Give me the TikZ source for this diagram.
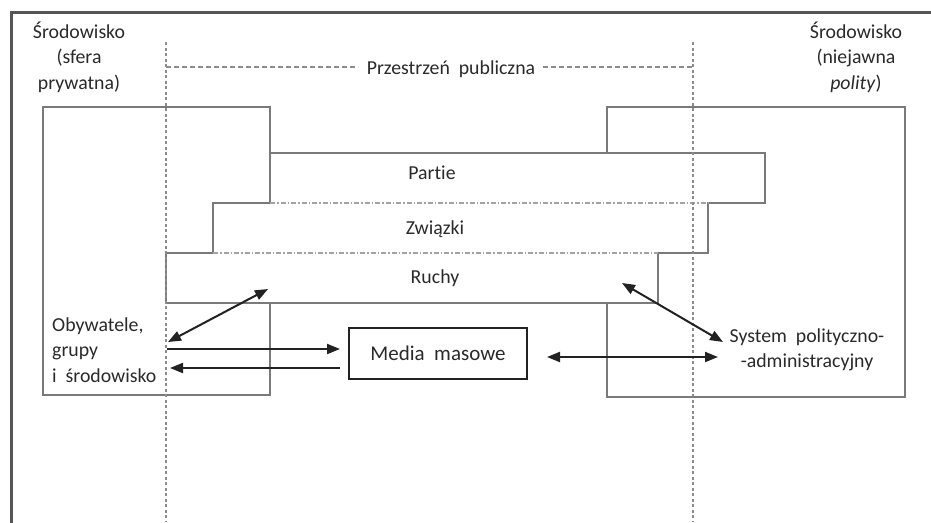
\documentclass[tikz,border=0pt]{standalone}
\usepackage{fontspec}
\setmainfont{Carlito}[Ligatures={NoCommon}]
\usetikzlibrary{arrows.meta}
\definecolor{boxgray}{HTML}{7A7A7A}
\definecolor{dotgray}{HTML}{8C8C8C}
\definecolor{ink}{HTML}{222222}
\definecolor{txt}{HTML}{2A2A2A}
\begin{document}
\begin{tikzpicture}[x=1pt,y=-1pt,
  boxline/.style={draw=boxgray,line width=1.5pt},
  vdots/.style={draw=dotgray,line width=1.6pt,dash pattern=on 3pt off 2.5pt},
  hdash/.style={draw=dotgray,line width=1.4pt,dash pattern=on 5pt off 3pt},
  dashdotline/.style={draw=dotgray!80,line width=1.3pt,dash pattern=on 5pt off 2pt on 1.5pt off 2pt},
  arr/.style={draw=ink,line width=2pt,-{Triangle[length=13pt,width=10pt]}},
  darr/.style={draw=ink,line width=2pt,{Triangle[length=13pt,width=10pt]}-{Triangle[length=13pt,width=10pt]}},
  lbl/.style={text=txt,font=\fontsize{19.8}{25.5}\selectfont,inner sep=0pt},
  mediabox/.style={draw=ink,line width=2.5pt,text=txt,font=\fontsize{21}{25}\selectfont,minimum width=178pt,minimum height=51pt,inner sep=0pt}
]
\useasboundingbox (0,0) rectangle (931,522);
\fill[white] (0,0) rectangle (931,522);
% outer frame
\draw[draw=boxgray!70!black,line width=3pt] (11,524) -- (11,12) -- (933,12);
% side boxes
\draw[boxline] (43,107) rectangle (270,395);
\draw[boxline] (607,107) rectangle (905,397);
% stairs
\fill[white] (270,153) -- (765,153) -- (765,203) -- (708,203) -- (708,253) -- (658,253) -- (658,303) -- (166,303) -- (166,253) -- (213,253) -- (213,203) -- (270,203) -- cycle;
\draw[boxline] (270,153) -- (765,153) -- (765,203) -- (708,203) -- (708,253) -- (658,253) -- (658,303) -- (166,303) -- (166,253) -- (213,253) -- (213,203) -- (270,203) -- cycle;
\draw[dashdotline] (270,203) -- (708,203);
\draw[dashdotline] (213,253) -- (658,253);
% public space
\draw[vdots] (166,42) -- (166,522);
\draw[vdots] (693,42) -- (693,522);
\node[lbl] (pp) at (451,69) {Przestrzeń\ \ publiczna};
\draw[hdash] (166,67) -- (358,67);
\draw[hdash] (543,67) -- (693,67);
% labels
\node[lbl,align=center] (envL) at (79,57) {Środowisko\\(sfera\\prywatna)};
\node[lbl,align=center] (envR) at (856,57) {Środowisko\\(niejawna\\\textit{polity})};
\node[lbl] (partie) at (432,173) {Partie};
\node[lbl] (zwiazki) at (435,229) {Związki};
\node[lbl] (ruchy) at (435,278) {Ruchy};
\node[lbl,align=left,anchor=west] (oby) at (52,350) {Obywatele,\\grupy\\i\ \ środowisko};
\node[lbl,align=center] (sys) at (807,350) {System\ \ polityczno-\\-administracyjny};
\node[mediabox] (media) at (438,353.5) {Media\ \ masowe};
% arrow endpoints
\coordinate (a1s) at (168,342);
\coordinate (a1e) at (268,289);
\coordinate (a2s) at (167,349);
\coordinate (a2e) at (340,349);
\coordinate (a3s) at (340,368);
\coordinate (a3e) at (170,368);
\coordinate (a4s) at (547,357);
\coordinate (a4e) at (718,357);
\coordinate (a5s) at (622,283);
\coordinate (a5e) at (723,342);
\draw[darr] (a1s) -- (a1e);
\draw[arr] (a2s) -- (a2e);
\draw[arr] (a3s) -- (a3e);
\draw[darr] (a4s) -- (a4e);
\draw[darr] (a5s) -- (a5e);
\end{tikzpicture}
\end{document}
